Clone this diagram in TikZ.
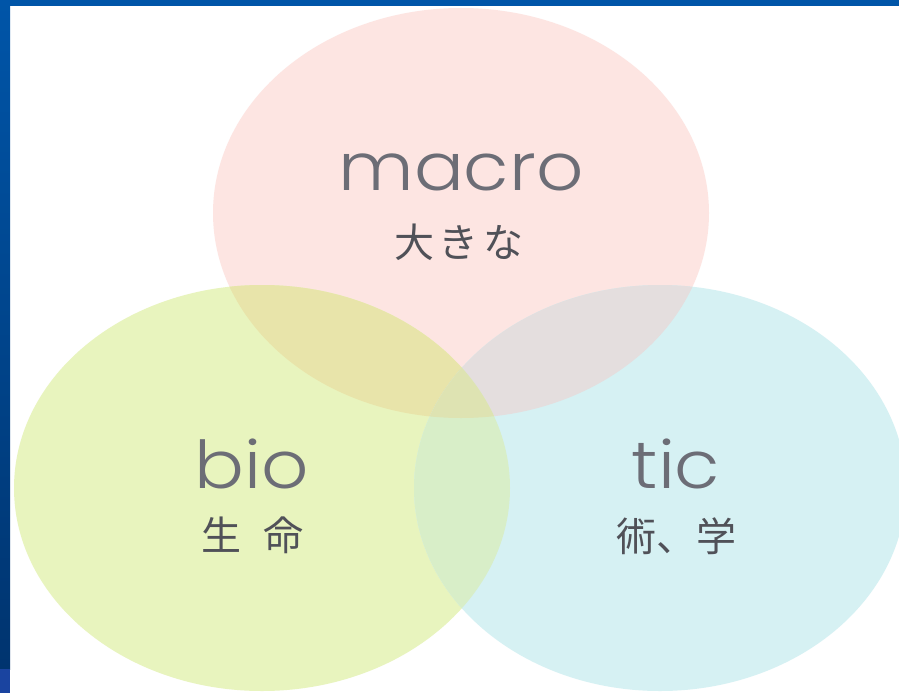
\documentclass[tikz,border=0pt]{standalone}
\usepackage{fontspec}
\setmainfont{Poppins}[UprightFont=* Light]
\newfontfamily\jpfont{Noto Sans CJK JP}
\definecolor{pinkc}{HTML}{FDE5E2}
\definecolor{greenc}{HTML}{E8F4BE}
\definecolor{bluec}{HTML}{D6F1F3}
\definecolor{pgc}{HTML}{E8E4AA}
\definecolor{pbc}{HTML}{E4DEDE}
\definecolor{gbc}{HTML}{D8EEC8}
\definecolor{pgbc}{HTML}{DEE3B2}
\definecolor{txt}{HTML}{6C6D76}
\definecolor{jtxt}{HTML}{505158}
\definecolor{bordtop}{HTML}{0055A8}
\definecolor{bordbot}{HTML}{00346F}
\definecolor{bordlow}{HTML}{1A44A0}
\newcommand{\topE}{(461,213) ellipse [x radius=248, y radius=205]}
\newcommand{\leftE}{(262,488) ellipse [x radius=248, y radius=203]}
\newcommand{\rightE}{(660,488) ellipse [x radius=246, y radius=203]}
\begin{document}
\begin{tikzpicture}[x=1pt,y=-1pt,
  latin/.style={text=txt, font=\fontsize{66}{66}\selectfont, anchor=base, inner sep=0pt},
  jp/.style={text=jtxt, font=\jpfont\fontsize{40}{40}\selectfont, inner sep=0pt}]
\useasboundingbox (0,0) rectangle (899,693);
\fill[white] (0,0) rectangle (899,693);
% circles
\fill[pinkc] \topE;
\fill[greenc] \leftE;
\fill[bluec] \rightE;
\begin{scope}\clip \topE; \fill[pgc] \leftE; \end{scope}
\begin{scope}\clip \topE; \fill[pbc] \rightE; \end{scope}
\begin{scope}\clip \leftE; \fill[gbc] \rightE; \end{scope}
\begin{scope}\clip \topE; \clip \leftE; \fill[pgbc] \rightE; \end{scope}
% frame
\shade[top color=bordtop, bottom color=bordbot] (0,0) rectangle (10,669);
\fill[bordlow] (0,669) rectangle (10,693);
\fill[bordtop] (0,0) rectangle (899,6);
% texts
\node[latin, xscale=1.12] (macro) at (461,190) {macro};
\node[jp] (ookina) at (459,242) {大\hspace{0.12em}き\hspace{0.12em}な};
\node[latin, xscale=1.12] (bio) at (252,488) {bio};
\node[jp] (seimei) at (252,535) {生\hspace{0.55em}命};
\node[latin, xscale=1.12] (tic) at (676,488) {tic};
\node[jp] (jutsu) at (676,536) {術、学};
\end{tikzpicture}
\end{document}
